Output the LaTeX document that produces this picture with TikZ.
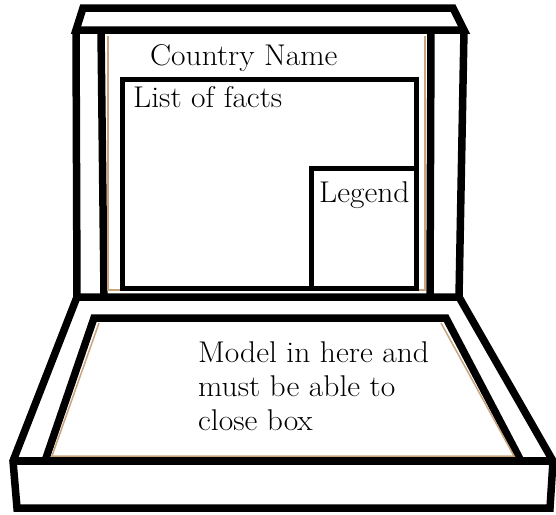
\documentclass[tikz,border=0pt]{standalone}
\usepackage{fontspec}
\setmainfont{Latin Modern Roman}[FakeStretch=1.05]
\definecolor{tan}{RGB}{200,165,125}
\tikzset{
  heavy/.style={draw=black,line width=7.5pt},
  boxline/.style={draw=black,line width=5pt},
  shade/.style={draw=tan,line width=1.5pt},
  label/.style={anchor=base west,inner sep=0pt,font=\fontsize{30}{33}\selectfont}
}
\begin{document}
\begin{tikzpicture}[x=1pt,y=-1pt]
\useasboundingbox[fill=white] (0,0) rectangle (556,514);
% lid
\draw[heavy,fill=white] (83,8) -- (453,8) -- (464,30) -- (76,30) -- cycle;
\draw[heavy] (76,30) -- (77,297);
\draw[heavy] (464,30) -- (459,297);
\draw[heavy] (101,30) -- (104,294);
\draw[heavy] (431,30) -- (430,294);
\draw[shade] (108,36) -- (108,290) -- (425,290) -- (425,36);
% list of facts and legend
\draw[boxline] (122,79) rectangle (416,288);
\draw[boxline] (311,168) rectangle (416,288);
\node[label] (country) at (150,65) {Country Name};
\node[label] (facts) at (133,107) {List of facts};
\node[label] (legend) at (319,202) {Legend};
% base
\draw[heavy,fill=white] (77,297) -- (459,297) -- (553,461) -- (550,508) -- (17,508) -- (13,461) -- cycle;
\draw[heavy] (13,461) -- (553,461);
\draw[heavy] (94,318) -- (446,318) -- (521,461) -- (45,461) -- cycle;
\draw[shade] (99,323) -- (52,456) -- (514,456) -- (441,323);
\node[label] (model) at (198,362) {Model in here and};
\node[label] (must) at (198,396) {must be able to};
\node[label] (close) at (198,430) {close box};
\end{tikzpicture}
\end{document}
